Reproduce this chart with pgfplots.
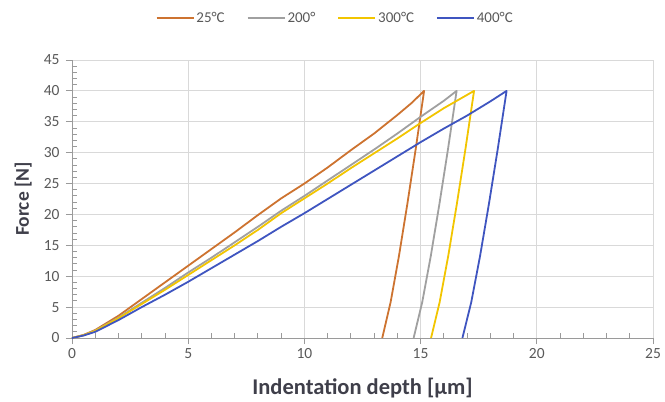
\documentclass[border=0pt]{standalone}
\usepackage{pgfplots}
\pgfplotsset{compat=1.18}
\usepackage{fontspec}
\setmainfont{Carlito}
\definecolor{cOrange}{HTML}{CD7330}
\definecolor{cGray}{HTML}{A0A0A0}
\definecolor{cYellow}{HTML}{F2C500}
\definecolor{cBlue}{HTML}{3F55C0}
\definecolor{gridc}{HTML}{D9D9D9}
\definecolor{axc}{HTML}{9A9A9A}
\definecolor{tickc}{HTML}{595959}
\definecolor{labc}{HTML}{3F3F4A}
\begin{document}
\begin{tikzpicture}
\begin{axis}[
  name=ax, at={(0,0)}, anchor=south west,
  scale only axis, width=581pt, height=278pt,
  xmin=0, xmax=25, ymin=0, ymax=45,
  xtick={0,5,...,25}, ytick={0,5,...,45},
  minor x tick num=4, minor y tick num=4,
  axis lines=left, axis line style={axc, line width=0.9pt, -},
  grid=major, major grid style={gridc, line width=0.8pt},
  tick align=outside, major tick length=6pt, minor tick length=5pt,
  every tick/.style={axc, line width=0.9pt},
  minor x tick style={yshift=5pt}, minor y tick style={xshift=5pt},
  /pgf/number format/assume math mode=true,
  ticklabel style={font=\fontsize{15.5}{18}\selectfont, text=tickc},
  xticklabel style={yshift=-1pt},
  yticklabel style={xshift=-3pt},
  xlabel={Indentation depth [µm]},
  ylabel={Force [N]},
  xlabel style={font=\fontsize{22.5}{26}\selectfont\bfseries, text=labc, at={(axis description cs:0.5,-0.18)}, anchor=center},
  ylabel style={font=\fontsize{19.5}{23}\selectfont\bfseries, text=labc, at={(axis description cs:-0.084,0.5)}, anchor=center},
  legend columns=4,
  legend style={draw=none, fill=none, at={(axis description cs:0.453,1.15)}, anchor=center,
    font=\fontsize{15}{18}\selectfont, text=tickc,
    /tikz/every even column/.append style={column sep=20pt}},
  legend image code/.code={\draw[#1] (0pt,0pt) -- (37pt,0pt);},
  every axis plot/.append style={line width=1.8pt, line join=round},
]
\addplot[cOrange] coordinates {
(0,0)(0.5,0.5)(1,1.3)(2,3.6)(3,6.3)(4,9.0)(5,11.7)(6,14.4)(7,17.1)(8,19.9)(9,22.6)(10,25.0)(11,27.6)(12,30.4)(13,33.1)(14,36.1)(14.6,38.0)(15.15,40)
(14.79,30.6)(14.43,21.7)(14.07,13.3)(13.71,5.8)(13.35,0)};
\addlegendentry{25°C}
\addplot[cGray] coordinates {
(0,0)(0.5,0.45)(1,1.2)(2,3.3)(3,5.7)(4,8.1)(5,10.6)(6,13.0)(7,15.5)(8,18.0)(9,20.6)(10,23.0)(11,25.5)(12,28.0)(13,30.5)(14,33.1)(15,35.8)(16,38.4)(16.55,40)
(16.18,30.6)(15.81,21.7)(15.44,13.3)(15.07,5.8)(14.7,0)};
\addlegendentry{200°}
\addplot[cYellow] coordinates {
(0,0)(0.5,0.45)(1,1.15)(2,3.2)(3,5.5)(4,7.8)(5,10.2)(6,12.6)(7,15.0)(8,17.5)(9,20.2)(10,22.6)(11,25.0)(12,27.5)(13,29.9)(14,32.3)(15,34.8)(16,37.2)(17.3,40)
(16.93,30.6)(16.56,21.7)(16.19,13.3)(15.82,5.8)(15.45,0)};
\addlegendentry{300°C}
\addplot[cBlue] coordinates {
(0,0)(0.5,0.4)(1,1.0)(2,2.9)(3,5.0)(4,7.0)(5,9.1)(6,11.3)(7,13.5)(8,15.7)(9,18.0)(10,20.2)(11,22.5)(12,24.8)(13,27.1)(14,29.4)(15,31.7)(16,33.9)(17,36.0)(18,38.3)(18.7,40)
(18.32,30.6)(17.94,21.7)(17.56,13.3)(17.18,5.8)(16.8,0)};
\addlegendentry{400°C}
\end{axis}
\pgfresetboundingbox
\path[use as bounding box] (ax.south west) ++(-72pt,-64pt) rectangle ++(665pt,402pt);
\end{tikzpicture}
\end{document}
